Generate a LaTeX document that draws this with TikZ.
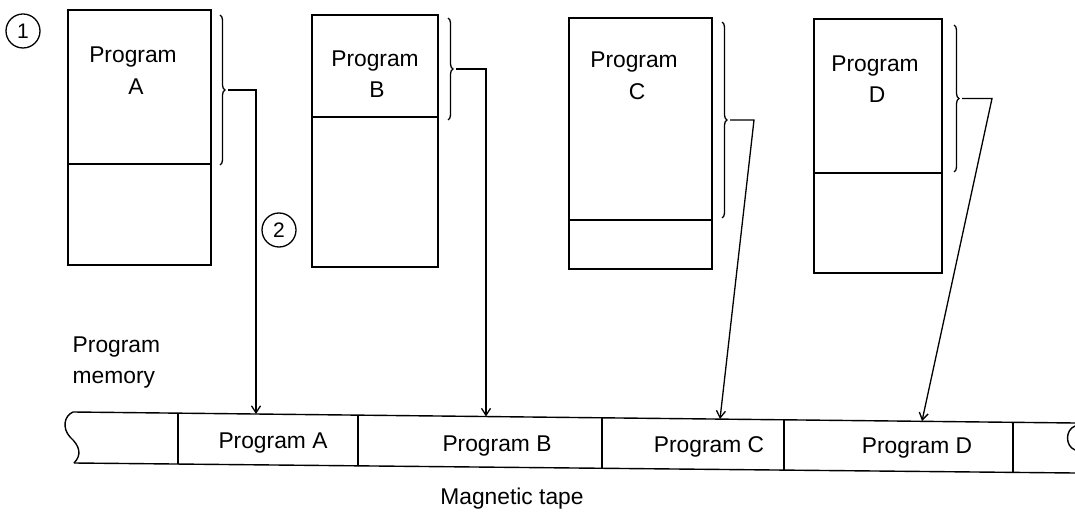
\documentclass[tikz,border=0pt]{standalone}
\usepackage{fontspec}
\setmainfont{Liberation Sans}
\usetikzlibrary{arrows.meta,decorations.pathreplacing}
\begin{document}
\begin{tikzpicture}[x=1pt,y=-1pt,line width=1.4pt,
  lbl/.style={font=\fontsize{22.8}{27}\selectfont, inner sep=0pt, anchor=base},
  lbll/.style={font=\fontsize{22.8}{27}\selectfont, inner sep=0pt, anchor=base west},
  brc/.style={decorate, decoration={brace, amplitude=5pt}, line width=1.3pt},
  link/.style={-{Straight Barb[length=7pt,width=9pt]}, line width=1.3pt},
  num/.style={circle, draw, line width=1.3pt, minimum size=34pt, inner sep=0pt, font=\fontsize{21}{21}\selectfont}]
\useasboundingbox (0,0) rectangle (1075,518);

% memory boxes
\draw (68,10) rectangle (211,265); \draw (68,164) -- (211,164);
\draw (312,15) rectangle (438,267); \draw (312,117) -- (438,117);
\draw (569,18) rectangle (712,269); \draw (569,220) -- (712,220);
\draw (814,19) rectangle (942,273); \draw (814,173) -- (942,173);

% labels in boxes
\node[lbl] (pA1) at (133,63) {Program};
\node[lbl] (pA2) at (136,95) {A};
\node[lbl] (pB1) at (375,67) {Program};
\node[lbl] (pB2) at (377,98) {B};
\node[lbl] (pC1) at (634,68) {Program};
\node[lbl] (pC2) at (637,100) {C};
\node[lbl] (pD1) at (875,72) {Program};
\node[lbl] (pD2) at (877,103) {D};

% braces
\draw[brc] (220,15) -- (220,165);
\draw[brc] (448,18) -- (448,120);
\draw[brc] (722,22) -- (722,218);
\draw[brc] (954,25) -- (954,172);
\coordinate (bA) at (228,90);
\coordinate (bB) at (456,69);
\coordinate (bC) at (730,120);
\coordinate (bD) at (962,98.5);

% circled numbers
\node[num] (n1) at (23,31) {1};
\node[num] (n2) at (279,230) {2};

% program memory label
\node[lbll] (pm1) at (72,352) {Program};
\node[lbll] (pm2) at (72,383) {memory};

% tape
\draw (73,412) -- (1075,423);
\draw (74,463) -- (1075,473);
\draw (73,412) .. controls (64,416) and (62,428) .. (70,437)
      .. controls (80,446) and (82,455) .. (74,463);
\draw (1075,426) .. controls (1065,430) and (1065,446) .. (1075,450);
\draw (178,413.2) -- (178,464.0);
\draw (358,415.2) -- (358,465.8);
\draw (602,417.8) -- (602,468.3);
\draw (784,419.8) -- (784,470.1);
\draw (1013,422.3) -- (1013,472.4);

\coordinate (tA) at (256,414);
\coordinate (tB) at (486,416.5);
\coordinate (tC) at (720,419);
\coordinate (tD) at (922,421);

\node[lbl] (tlA) at (273,448) {Program A};
\node[lbl] (tlB) at (497,451) {Program B};
\node[lbl] (tlC) at (709,452) {Program C};
\node[lbl] (tlD) at (917,453) {Program D};
\node[lbl] (mt) at (512,504) {Magnetic tape};

% connectors
\draw[link] (bA) -- (256,90) -- (tA);
\draw[link] (bB) -- (486,69) -- (tB);
\draw[link] (bC) -- (754,120) -- (tC);
\draw[link] (bD) -- (992,98.5) -- (tD);
\end{tikzpicture}
\end{document}
